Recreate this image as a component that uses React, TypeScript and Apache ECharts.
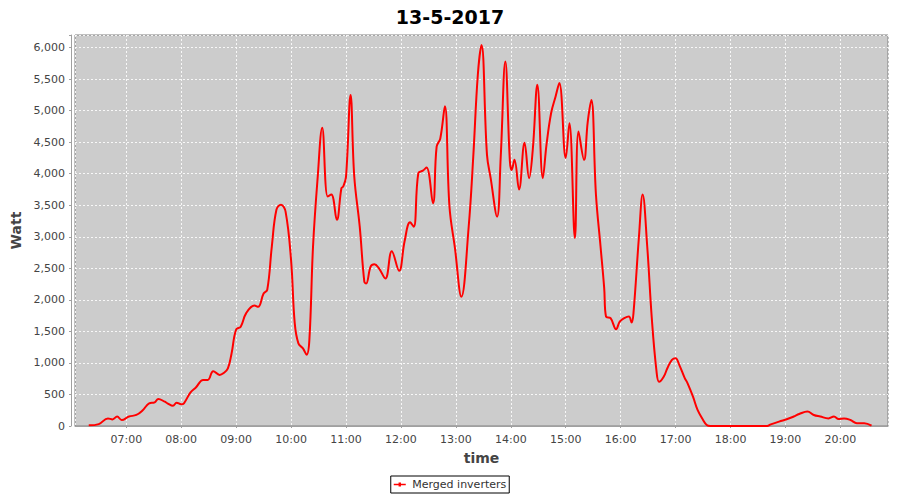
import React, { useEffect, useRef } from "react";
import * as echarts from "echarts";

const TITLE = "13-5-2017";
const SERIES_NAME = "Merged inverters";

const times: string[] = [
  "06:19", "06:30", "06:40", "06:45", "06:50", "06:55", "07:03", "07:11", "07:18", "07:25",
  "07:31", "07:35", "07:42", "07:45", "07:51", "07:55", "08:00", "08:03", "08:10", "08:16",
  "08:24", "08:29", "08:35", "08:42", "08:46", "08:51", "08:55", "09:00", "09:05", "09:11",
  "09:20", "09:24", "09:30", "09:34", "09:39", "09:44", "09:49", "09:54", "10:00", "10:04",
  "10:08", "10:13", "10:17", "10:20", "10:24", "10:29", "10:34", "10:40", "10:44", "10:50",
  "10:55", "10:57", "11:00", "11:05", "11:09", "11:15", "11:20", "11:22", "11:27", "11:31",
  "11:36", "11:43", "11:50", "11:58", "12:04", "12:10", "12:14", "12:19", "12:24", "12:28",
  "12:35", "12:39", "12:43", "12:48", "12:53", "12:59", "13:06", "13:14", "13:19", "13:24",
  "13:28", "13:34", "13:38", "13:45", "13:49", "13:54", "13:59", "14:01", "14:04", "14:09",
  "14:15", "14:20", "14:24", "14:29", "14:35", "14:39", "14:44", "14:49", "14:53", "15:00",
  "15:04", "15:10", "15:14", "15:20", "15:24", "15:28", "15:33", "15:38", "15:42", "15:44",
  "15:49", "15:55", "15:59", "16:04", "16:09", "16:12", "16:14", "16:20", "16:24", "16:29",
  "16:34", "16:39", "16:42", "16:47", "16:51", "16:56", "17:00", "17:04", "17:10", "17:13",
  "17:19", "17:24", "17:30", "17:34", "17:38", "17:45", "18:00", "18:15", "18:30", "18:40",
  "18:44", "18:53", "19:02", "19:09", "19:15", "19:24", "19:31", "19:38", "19:47", "19:53",
  "19:58", "20:04", "20:11", "20:18", "20:26", "20:34"
];

const watts: number[] = [
  10, 30, 120, 105, 150, 95, 150, 175, 250, 360,
  375, 430, 385, 360, 320, 370, 345, 360, 530, 610,
  730, 730, 870, 810, 835, 915, 1150, 1530, 1575, 1790,
  1910, 1890, 2100, 2160, 2850, 3430, 3510, 3400, 2630, 1630,
  1310, 1230, 1130, 1365, 2850, 3930, 4730, 3640, 3670, 3270,
  3770, 3800, 3950, 5250, 3960, 3160, 2290, 2260, 2530, 2565,
  2500, 2340, 2770, 2460, 2930, 3230, 3160, 4010, 4050, 4100,
  3530, 4430, 4560, 5070, 3480, 2820, 2050, 3160, 4270, 5570,
  6040, 4300, 3930, 3320, 4270, 5780, 4200, 4060, 4220, 3750,
  4490, 3930, 4380, 5410, 3930, 4460, 4960, 5230, 5440, 4250,
  4800, 2980, 4670, 4220, 4820, 5170, 3670, 2850, 2190, 1735,
  1710, 1535, 1655, 1710, 1735, 1640, 1790, 3005, 3670, 2850,
  1710, 890, 700, 780, 915, 1050, 1075, 970, 760, 680,
  465, 255, 95, 15, 0, 0, 0, 0, 0, 0,
  25, 70, 110, 150, 190, 230, 175, 150, 120, 150,
  110, 120, 95, 45, 45, 5
];

const X_START = "06:04";
const X_END = "20:52";
const Y_MIN = 0;
const Y_MAX = 6200;
const Y_STEP = 500;

const FONT = "DejaVu Sans";

function toTs(hhmm: string): number {
  const [h, m] = hhmm.split(":").map(Number);
  return new Date(2017, 4, 13, h, m, 0).getTime();
}
function pad(n: number): string {
  return n < 10 ? "0" + n : String(n);
}

export default function App() {
  const ref = useRef<HTMLDivElement>(null);

  useEffect(() => {
    if (!ref.current) return;
    const chart = echarts.init(ref.current, undefined, { renderer: "svg" });
    const data = times.map((t, i) => [toTs(t), watts[i]]);
    const gridLine = {
      show: true,
      lineStyle: { color: "rgba(255,255,255,0.85)", width: 1, type: [2, 2] as any },
    };
    chart.setOption({
      animation: false,
      backgroundColor: "#ffffff",
      textStyle: { fontFamily: FONT },
      title: {
        text: TITLE,
        left: "center",
        top: 2,
        textStyle: { fontFamily: FONT, fontSize: 19, fontWeight: "bold", color: "#000" },
      },
      grid: {
        left: 75,
        right: 12,
        top: 35,
        bottom: 74,
        show: true,
        backgroundColor: "#cccccc",
        borderColor: "#808080",
        borderWidth: 1,
        outerBoundsMode: "none",
        containLabel: false,
      },
      legend: {
        data: [SERIES_NAME],
        left: "center",
        top: 476,
        padding: [3, 3],
        borderColor: "#000",
        borderWidth: 1,
        borderRadius: 0,
        itemWidth: 15,
        itemHeight: 4,
        icon: "path://M0,1.5H6V0H9V1.5H15V3.5H9V5H6V3.5H0Z",
        textStyle: { fontFamily: FONT, fontSize: 11, color: "#333" },
      },
      xAxis: {
        type: "time",
        min: toTs(X_START),
        max: toTs(X_END),
        minInterval: 3600 * 1000,
        maxInterval: 3600 * 1000,
        offset: 4,
        name: "time",
        nameLocation: "middle",
        nameGap: 21,
        nameTextStyle: { fontFamily: FONT, fontSize: 14, fontWeight: "bold", color: "#444" },
        axisLine: { show: true, lineStyle: { color: "#a0a0a0", width: 1 } },
        axisTick: { show: true, length: 2, lineStyle: { color: "#a0a0a0" } },
        axisLabel: {
          margin: 4,
          fontFamily: FONT,
          fontSize: 11,
          color: "#444",
          hideOverlap: false,
          formatter: (v: number) => {
            const d = new Date(v);
            return pad(d.getHours()) + ":" + pad(d.getMinutes());
          },
        },
        splitLine: gridLine,
      },
      yAxis: {
        type: "value",
        min: Y_MIN,
        max: Y_MAX,
        interval: Y_STEP,
        offset: 4,
        name: "Watt",
        nameLocation: "middle",
        nameGap: 45,
        nameRotate: 90,
        nameTextStyle: { fontFamily: FONT, fontSize: 14, fontWeight: "bold", color: "#444" },
        axisLine: { show: true, lineStyle: { color: "#a0a0a0", width: 1 } },
        axisTick: { show: true, length: 2, lineStyle: { color: "#a0a0a0" } },
        axisLabel: {
          margin: 6,
          fontFamily: FONT,
          fontSize: 11,
          color: "#444",
          formatter: (v: number) => (v % Y_STEP === 0 ? v.toLocaleString("en-US") : ""),
        },
        splitLine: gridLine,
      },
      series: [
        {
          name: SERIES_NAME,
          type: "line",
          data,
          smooth: 0.4,
          showSymbol: false,
          clip: false,
          lineStyle: { color: "#ff0000", width: 2 },
          itemStyle: { color: "#ff0000" },
        },
      ],
    });
    return () => chart.dispose();
  }, []);

  return (
    <div
      ref={ref}
      style={{ position: "fixed", left: 0, top: 0, width: 900, height: 500 }}
    />
  );
}
